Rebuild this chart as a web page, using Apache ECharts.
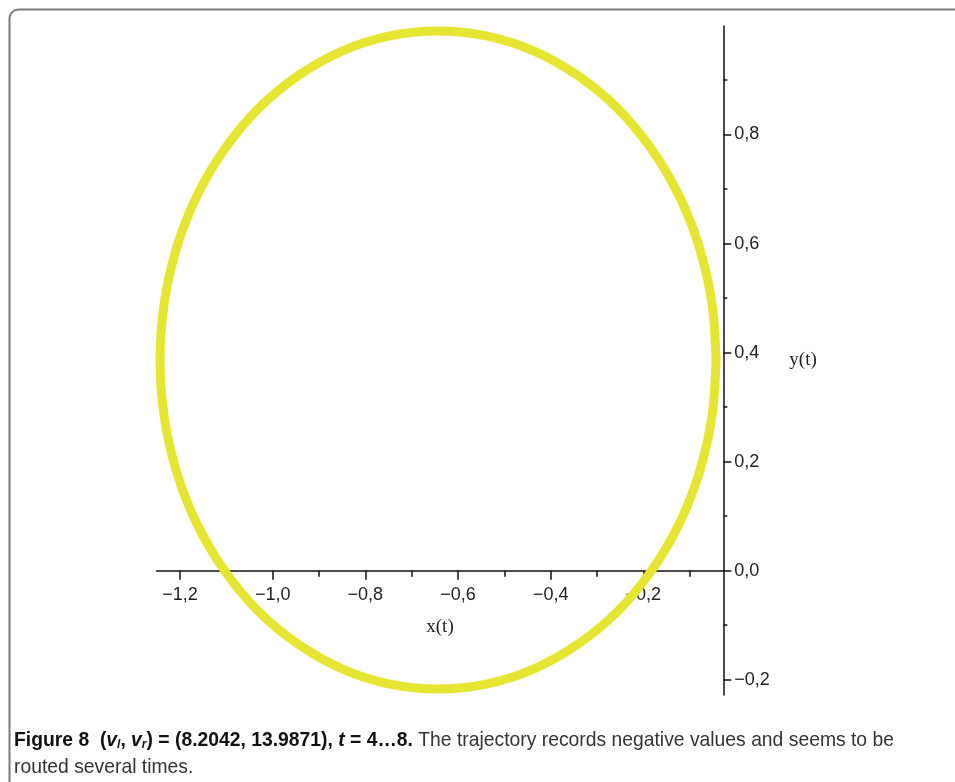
<!DOCTYPE html>
<html>
<head>
<meta charset="utf-8">
<script src="https://cdn.jsdelivr.net/npm/echarts@6/dist/echarts.min.js"></script>
<style>
html,body{margin:0;padding:0;background:#fff;}
#chart{width:955px;height:782px;}
</style>
</head>
<body>
<div id="chart"></div>
<script>
// Trajectory points (x(t), y(t))
const trajX = [-0.043, -0.052, -0.079, -0.123, -0.183, -0.257, -0.343, -0.438, -0.539, -0.643, -0.747, -0.848, -0.943, -1.029, -1.103, -1.163, -1.207, -1.234, -1.243, -1.234, -1.207, -1.163, -1.103, -1.029, -0.943, -0.848, -0.747, -0.643, -0.539, -0.438, -0.343, -0.257, -0.183, -0.123, -0.079, -0.052, -0.043];
const trajY = [0.387, 0.491, 0.593, 0.688, 0.774, 0.849, 0.909, 0.954, 0.981, 0.990, 0.981, 0.954, 0.909, 0.849, 0.774, 0.688, 0.593, 0.491, 0.387, 0.282, 0.180, 0.085, -0.001, -0.076, -0.136, -0.181, -0.208, -0.217, -0.208, -0.181, -0.136, -0.076, -0.001, 0.085, 0.180, 0.282, 0.387];

const xTicks = [-1.2, -1.0, -0.8, -0.6, -0.4, -0.2];
const xTickLabels = ['\u22121,2', '\u22121,0', '\u22120,8', '\u22120,6', '\u22120,4', '\u22120,2'];
const xMinorTicks = [-1.1, -0.9, -0.7, -0.5, -0.3, -0.1];
const yTicks = [-0.2, 0.0, 0.2, 0.4, 0.6, 0.8];
const yTickLabels = ['\u22120,2', '0,0', '0,2', '0,4', '0,6', '0,8'];
const yMinorTicks = [-0.1, 0.1, 0.3, 0.5, 0.7, 0.9];

const xName = 'x(t)';
const yName = 'y(t)';

const chart = echarts.init(document.getElementById('chart'), null, {renderer: 'canvas'});

function labelFor(ticks, labels) {
  return function (v) {
    for (let i = 0; i < ticks.length; i++) {
      if (Math.abs(ticks[i] - v) < 1e-6) return labels[i];
    }
    return '';
  };
}

const xMin = -1.2503, xMax = -0.0273, yMin = -0.228, yMax = 0.999;
const gridTop = 26, gridBottom = 87, chartH = 782;
const plotH = chartH - gridTop - gridBottom;
// shift of the x axis from the grid bottom up to y = 0
const xAxisOffset = -plotH * (0 - yMin) / (yMax - yMin);

const axisColor = '#111';
const labelFont = {fontFamily: 'Liberation Sans, Arial, sans-serif', fontSize: 18, color: '#222'};
const capFont = 'Liberation Sans, Arial, sans-serif';

const option = {
  animation: false,
  backgroundColor: '#fff',
  grid: {left: 156.7, right: 231.7, top: gridTop, bottom: gridBottom, containLabel: false},
  xAxis: [
    {
      type: 'value', min: xMin, max: xMax, position: 'bottom', offset: xAxisOffset,
      axisLine: {show: true, onZero: false, lineStyle: {color: axisColor, width: 1.5}},
      axisTick: {show: true, length: 9, customValues: xTicks, lineStyle: {color: axisColor, width: 1.5}},
      axisLabel: Object.assign({show: true, margin: 15, customValues: xTicks, formatter: labelFor(xTicks, xTickLabels)}, labelFont),
      splitLine: {show: false},
      name: xName, nameLocation: 'middle', nameGap: 47,
      nameTextStyle: {fontFamily: 'Liberation Serif, Times New Roman, serif', fontSize: 19, color: '#222'}
    },
    {
      type: 'value', min: xMin, max: xMax, position: 'bottom', offset: xAxisOffset,
      axisLine: {show: false, onZero: false},
      axisTick: {show: true, length: 6, customValues: xMinorTicks, lineStyle: {color: axisColor, width: 1.5}},
      axisLabel: {show: false},
      splitLine: {show: false}
    }
  ],
  yAxis: [
    {
      type: 'value', min: yMin, max: yMax, position: 'right',
      axisLine: {show: true, onZero: false, lineStyle: {color: axisColor, width: 1.5}},
      axisTick: {show: true, length: 8, customValues: yTicks, lineStyle: {color: axisColor, width: 1.5}},
      axisLabel: Object.assign({show: true, margin: 11, customValues: yTicks, formatter: labelFor(yTicks, yTickLabels)}, labelFont),
      splitLine: {show: false},
      name: yName, nameLocation: 'middle', nameGap: 66, nameRotate: 0,
      nameTextStyle: {fontFamily: 'Liberation Serif, Times New Roman, serif', fontSize: 19, color: '#222', padding: [14, 0, 0, 0]}
    },
    {
      type: 'value', min: yMin, max: yMax, position: 'right',
      axisLine: {show: false, onZero: false},
      axisTick: {show: true, length: 4, customValues: yMinorTicks, lineStyle: {color: axisColor, width: 1.5}},
      axisLabel: {show: false},
      splitLine: {show: false}
    }
  ],
  series: [
    {
      type: 'line',
      xAxisIndex: 0, yAxisIndex: 0,
      data: trajX.map((x, i) => [x, trajY[i]]),
      smooth: 0.35,
      showSymbol: false,
      clip: false,
      lineStyle: {color: '#e6e632', width: 9, cap: 'round', join: 'round'},
      z: 5
    }
  ],
  graphic: [
    {
      type: 'rect', left: 7, top: 7, silent: true, z: -1,
      shape: {x: 0, y: 0, width: 960, height: 790, r: 9},
      style: {fill: 'none', stroke: '#7a7a7a', lineWidth: 2}
    },
    {
      type: 'text', x: 14, y: 730, scaleX: 0.92,
      style: {
        text: '{b|Figure 8  (}{bi|v}{bs|l}{b|, }{bi|v}{bs|r}{b|) = (8.2042, 13.9871), }{bi|t}{b| = 4\u20268.}{n| The trajectory records negative values and seems to be}',
        font: '21px ' + capFont,
        fill: '#222',
        rich: {
          b: {fontFamily: capFont, fontSize: 21, fontWeight: 'bold', fill: '#111'},
          bi: {fontFamily: capFont, fontSize: 21, fontWeight: 'bold', fontStyle: 'italic', fill: '#111'},
          bs: {fontFamily: capFont, fontSize: 13, fontWeight: 'bold', fontStyle: 'italic', fill: '#111', verticalAlign: 'bottom', padding: [7, 0, 0, 0]},
          n: {fontFamily: capFont, fontSize: 21, fill: '#333'}
        }
      }
    },
    {
      type: 'text', x: 14, y: 757, scaleX: 0.92,
      style: {
        text: 'routed several times.',
        font: '21px ' + capFont,
        fill: '#333'
      }
    }
  ]
};
chart.setOption(option);
</script>
</body>
</html>
